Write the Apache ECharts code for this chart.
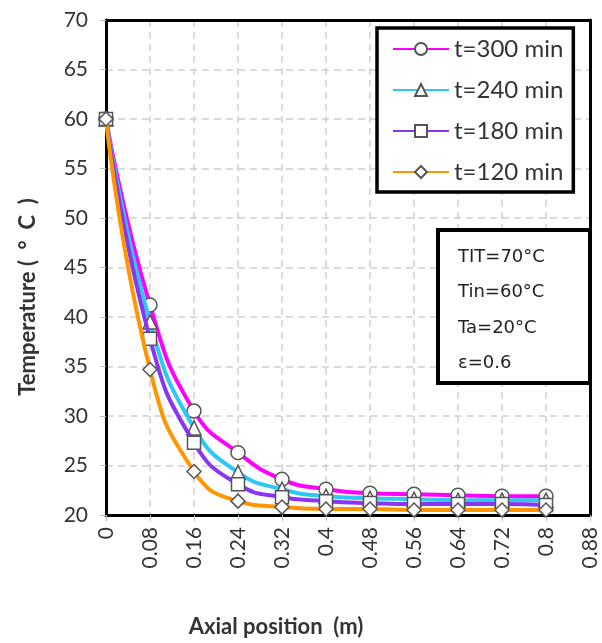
<!DOCTYPE html>
<html>
<head>
<meta charset="utf-8">
<script src="https://cdn.jsdelivr.net/npm/echarts@6/dist/echarts.min.js"></script>
<style>
  html, body { margin: 0; padding: 0; background: #fff; }
  #chart { width: 602px; height: 643px; }
</style>
</head>
<body>
<div id="chart"></div>
<script>
// Axial positions (m)
const positions = [0, 0.08, 0.16, 0.24, 0.32, 0.4, 0.48, 0.56, 0.64, 0.72, 0.8];

// Temperature profiles (°C) at different times
const t300 = [60, 41.2, 30.5, 26.3, 23.6, 22.6, 22.2, 22.1, 22.0, 21.9, 21.9];
const t240 = [60, 39.5, 28.8, 24.3, 22.6, 21.9, 21.7, 21.6, 21.5, 21.5, 21.5];
const t180 = [60, 37.8, 27.3, 23.1, 21.8, 21.4, 21.2, 21.1, 21.1, 21.1, 21.0];
const t120 = [60, 34.7, 24.4, 21.4, 20.8, 20.6, 20.6, 20.5, 20.5, 20.5, 20.5];

const seriesNames = ['t=300 min', 't=240 min', 't=180 min', 't=120 min'];
const seriesValues = [t300, t240, t180, t120];
const seriesColors = ['#ff00ff', '#2ec8f2', '#8a35f2', '#ff9500'];
const seriesSymbols = ['circle', 'triangle', 'rect', 'diamond'];

const annotations = ['TIT=70°C', 'Tin=60°C', 'Ta=20°C', 'ε=0.6'];

const labelFont = 'Lato, "Open Sans", sans-serif';

const chart = echarts.init(document.getElementById('chart'), null, { renderer: 'canvas' });

const series = seriesNames.map((name, i) => ({
  name: name,
  type: 'line',
  data: positions.map((x, k) => [x, seriesValues[i][k]]),
  smooth: 0.5,
  symbol: seriesSymbols[i],
  symbolSize: seriesSymbols[i] === 'rect' ? 13 : 14,
  lineStyle: { color: seriesColors[i], width: 4 },
  itemStyle: { color: '#fff', borderColor: '#555', borderWidth: 1.5 },
  emphasis: { disabled: true },
  z: 3 + i
}));

const frameAxis = {
  show: true,
  axisLine: { show: true, onZero: false, lineStyle: { color: '#000', width: 3 } },
  axisTick: { show: false },
  axisLabel: { show: false },
  splitLine: { show: false }
};

chart.setOption({
  animation: false,
  backgroundColor: '#fff',
  grid: { left: 106, right: 12, top: 20, bottom: 128, show: false },
  xAxis: [
    {
      type: 'value', min: 0, max: 0.88, interval: 0.08,
      axisLine: { show: true, onZero: false, lineStyle: { color: '#000', width: 3 } },
      axisTick: { show: true, length: 6, lineStyle: { color: '#bbb', width: 1 } },
      axisLabel: {
        rotate: 90, margin: 12, fontSize: 21, color: '#333', fontFamily: labelFont,
        formatter: v => String(+v.toFixed(2))
      },
      splitLine: { show: true, lineStyle: { color: '#cfcfcf', type: [7, 5], width: 1.5 } }
    },
    Object.assign({ type: 'value', position: 'top', min: 0, max: 0.88, interval: 0.08 }, frameAxis)
  ],
  yAxis: [
    {
      type: 'value', min: 20, max: 70, interval: 5,
      axisLine: { show: true, onZero: false, lineStyle: { color: '#000', width: 3 } },
      axisTick: { show: true, length: 6, lineStyle: { color: '#bbb', width: 1 } },
      axisLabel: { margin: 18, fontSize: 21, color: '#333', fontFamily: labelFont },
      splitLine: { show: true, lineStyle: { color: '#cfcfcf', type: [7, 5], width: 1.5 } }
    },
    Object.assign({ type: 'value', position: 'right', min: 20, max: 70, interval: 5 }, frameAxis)
  ],
  legend: {
    orient: 'vertical',
    left: 377, top: 28,
    padding: [8, 10, 7, 15],
    itemGap: 15,
    itemWidth: 56, itemHeight: 15,
    backgroundColor: '#fff',
    borderColor: '#000', borderWidth: 3.5,
    textStyle: { fontSize: 24, color: '#333', fontFamily: labelFont, lineHeight: 26 },
    data: seriesNames
  },
  graphic: [
    {
      type: 'text', x: 28, y: 297, rotation: Math.PI / 2,
      style: {
        text: 'Temperature (  °  C  )', fontSize: 22, fontWeight: 'bold',
        fontFamily: labelFont, fill: '#333', align: 'center', verticalAlign: 'middle'
      }
    },
    {
      type: 'text', x: 276, y: 627,
      style: {
        text: 'Axial position  (m)', fontSize: 22, fontWeight: 'bold',
        fontFamily: labelFont, fill: '#333', align: 'center', verticalAlign: 'middle'
      }
    },
    {
      type: 'rect', z: 100,
      shape: { x: 438, y: 230, width: 152, height: 153 },
      style: { fill: '#fff', stroke: '#000', lineWidth: 4 }
    },
    ...annotations.map((t, i) => ({
      type: 'text', z: 101, x: 458, y: 257 + i * 35.5,
      style: {
        text: t, fontSize: 18, fontFamily: '"DejaVu Sans", sans-serif',
        fill: '#222', verticalAlign: 'middle'
      }
    }))
  ],
  series: series
});
</script>
</body>
</html>
